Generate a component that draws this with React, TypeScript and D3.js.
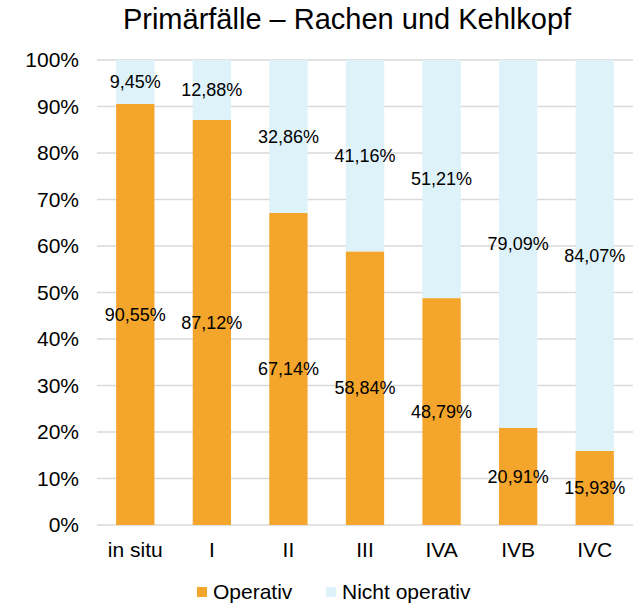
import React, { useRef, useEffect } from 'react';
import * as d3 from 'd3';

const categories = ['in situ', 'I', 'II', 'III', 'IVA', 'IVB', 'IVC'];
const operativ = [90.55, 87.12, 67.14, 58.84, 48.79, 20.91, 15.93];
const nichtOperativ = [9.45, 12.88, 32.86, 41.16, 51.21, 79.09, 84.07];
const yTicks = [0, 10, 20, 30, 40, 50, 60, 70, 80, 90, 100];
const seriesNames = ['Operativ', 'Nicht operativ'];
const colors = ['#F4A52B', '#DEF2FA'];

const W = 637;
const H = 604;
const margin = { top: 60, right: 4, bottom: 79, left: 97 };
const fmt = (v: number) => v.toFixed(2).replace('.', ',') + '%';

export default function App() {
  const svgRef = useRef<SVGSVGElement>(null);

  useEffect(() => {
    if (!svgRef.current) return;
    const svg = d3.select(svgRef.current);
    svg.selectAll('*').remove();
    const font = "'Liberation Sans', Arial, sans-serif";

    const x = d3.scaleBand().domain(categories).range([margin.left, W - margin.right]).paddingInner(0.5).paddingOuter(0.25);
    const y = d3.scaleLinear().domain([0, 100]).range([H - margin.bottom, margin.top]);

    // title
    svg.append('text')
      .attr('x', 347).attr('y', 29)
      .attr('text-anchor', 'middle')
      .style('font-family', font).style('font-size', '29px').style('fill', '#000')
      .text('Primärfälle – Rachen und Kehlkopf');

    // grid
    svg.append('g').selectAll('line').data(yTicks).join('line')
      .attr('x1', margin.left).attr('x2', W - margin.right)
      .attr('y1', (d) => y(d)).attr('y2', (d) => y(d))
      .style('stroke', '#D9D9D9').style('stroke-width', 1.3);

    svg.append('g').selectAll('text').data(yTicks).join('text')
      .attr('x', 79).attr('y', (d) => y(d)).attr('dy', '0.35em')
      .attr('text-anchor', 'end')
      .style('font-family', font).style('font-size', '21px').style('fill', '#000')
      .text((d) => d + '%');

    const rows = categories.map((c, i) => ({ c, op: operativ[i], nop: nichtOperativ[i] }));

    // bars
    const g = svg.append('g');
    g.selectAll('rect.op').data(rows).join('rect')
      .attr('class', 'op')
      .attr('x', (d) => x(d.c)!).attr('width', x.bandwidth())
      .attr('y', (d) => y(d.op)).attr('height', (d) => y(0) - y(d.op))
      .style('fill', colors[0]);
    g.selectAll('rect.nop').data(rows).join('rect')
      .attr('class', 'nop')
      .attr('x', (d) => x(d.c)!).attr('width', x.bandwidth())
      .attr('y', (d) => y(d.op + d.nop)).attr('height', (d) => y(d.op) - y(d.op + d.nop))
      .style('fill', colors[1]);

    // labels
    g.selectAll('text.lop').data(rows).join('text')
      .attr('class', 'lop')
      .attr('x', (d) => x(d.c)! + x.bandwidth() / 2).attr('y', (d) => y(d.op / 2))
      .attr('dy', '0.35em').attr('text-anchor', 'middle')
      .style('font-family', font).style('font-size', '18px').style('fill', '#000')
      .text((d) => fmt(d.op));
    g.selectAll('text.lnop').data(rows).join('text')
      .attr('class', 'lnop')
      .attr('x', (d) => x(d.c)! + x.bandwidth() / 2).attr('y', (d) => y(d.op + d.nop / 2))
      .attr('dy', '0.35em').attr('text-anchor', 'middle')
      .style('font-family', font).style('font-size', '18px').style('fill', '#000')
      .text((d) => fmt(d.nop));

    // x labels
    svg.append('g').selectAll('text').data(categories).join('text')
      .attr('x', (d) => x(d)! + x.bandwidth() / 2).attr('y', 557)
      .attr('text-anchor', 'middle')
      .style('font-family', font).style('font-size', '21px').style('fill', '#000')
      .text((d) => d);

    // legend
    const legX = [197, 326];
    seriesNames.forEach((name, i) => {
      svg.append('rect')
        .attr('x', legX[i]).attr('y', 587).attr('width', 10).attr('height', 10)
        .style('fill', colors[i]);
      svg.append('text')
        .attr('x', legX[i] + 16).attr('y', 599)
        .style('font-family', font).style('font-size', '21px').style('fill', '#000')
        .text(name);
    });
  }, []);

  return <svg ref={svgRef} width={W} height={H} style={{ display: 'block', position: 'absolute', left: 0, top: 0 }} />;
}
